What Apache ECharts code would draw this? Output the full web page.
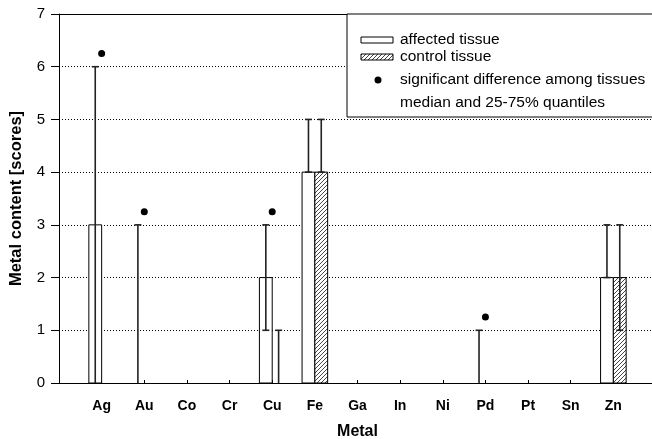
<!DOCTYPE html>
<html>
<head>
<meta charset="utf-8">
<script src="https://cdn.jsdelivr.net/npm/echarts/dist/echarts.min.js"></script>
<style>
  html, body { margin: 0; padding: 0; background: #fff; }
  #chart { width: 652px; height: 439px; }
</style>
</head>
<body>
<div id="chart"></div>
<script>
// metals on the x axis
const metals = ["Ag", "Au", "Co", "Cr", "Cu", "Fe", "Ga", "In", "Ni", "Pd", "Pt", "Sn", "Zn"];
// affected tissue: median, 25% and 75% quantiles
const affMedian = [3, 0, 0, 0, 2, 4, 0, 0, 0, 0, 0, 0, 2];
const affQ25 = [0, 0, 0, 0, 1, 4, 0, 0, 0, 0, 0, 0, 2];
const affQ75 = [6, 3, 0, 0, 3, 5, 0, 0, 0, 1, 0, 0, 3];
// control tissue
const ctlMedian = [0, 0, 0, 0, 0, 4, 0, 0, 0, 0, 0, 0, 2];
const ctlQ25 = [0, 0, 0, 0, 0, 4, 0, 0, 0, 0, 0, 0, 1];
const ctlQ75 = [0, 0, 0, 0, 1, 5, 0, 0, 0, 0, 0, 0, 3];
// significant difference markers (height of the dot)
const sigDots = [6.25, 3.25, null, null, 3.25, null, null, null, null, 1.25, null, null, null];
const yTicks = [0, 1, 2, 3, 4, 5, 6, 7];

const FONT = '"Liberation Sans", Arial, sans-serif';

// hatch pattern for control tissue
const hc = document.createElement("canvas");
hc.width = 4;
hc.height = 4;
const g = hc.getContext("2d");
g.fillStyle = "#fff";
g.fillRect(0, 0, 4, 4);
g.strokeStyle = "#444";
g.lineWidth = 1;
g.beginPath();
g.moveTo(0, 4); g.lineTo(4, 0);
g.moveTo(-1, 1); g.lineTo(1, -1);
g.moveTo(3, 5); g.lineTo(5, 3);
g.stroke();
const hatch = { image: hc, repeat: "repeat" };

const BW = 0.3; // bar width in x units

function boxItem(params, api) {
  const x = api.value(0), med = api.value(1), lo = api.value(2), hi = api.value(3), side = api.value(4);
  const x0 = side < 0 ? x - BW : x;
  const children = [];
  if (med > 0) {
    const p0 = api.coord([x0, med]);
    const p1 = api.coord([x0 + BW, 0]);
    children.push({
      type: "rect",
      shape: { x: p0[0], y: p0[1], width: p1[0] - p0[0], height: p1[1] - p0[1] },
      style: { fill: side < 0 ? "#fff" : hatch, stroke: "#000", lineWidth: 1 }
    });
  }
  if (hi > lo) {
    const xc = x0 + BW / 2;
    const a = api.coord([xc, hi]);
    const b = api.coord([xc, lo]);
    const cap = 3.5;
    const st = { stroke: "#222", lineWidth: 1.6 };
    children.push({ type: "line", shape: { x1: a[0], y1: a[1], x2: b[0], y2: b[1] }, style: st });
    children.push({ type: "line", shape: { x1: a[0] - cap, y1: a[1], x2: a[0] + cap, y2: a[1] }, style: st });
    if (lo > 0) {
      children.push({ type: "line", shape: { x1: b[0] - cap, y1: b[1], x2: b[0] + cap, y2: b[1] }, style: st });
    }
  }
  return { type: "group", children: children };
}

const affData = metals.map((m, i) => [i + 1, affMedian[i], affQ25[i], affQ75[i], -1]);
const ctlData = metals.map((m, i) => [i + 1, ctlMedian[i], ctlQ25[i], ctlQ75[i], 1]);
const dotData = [];
sigDots.forEach((v, i) => { if (v != null) dotData.push([i + 1, v]); });

const chart = echarts.init(document.getElementById("chart"));
chart.setOption({
  animation: false,
  grid: { left: 59, right: -4, top: 14, bottom: 56, outerBoundsMode: "none", containLabel: false },
  xAxis: [
    {
      type: "value",
      min: 0, max: metals.length + 1, interval: 1,
      name: "Metal",
      nameLocation: "middle",
      nameGap: 41,
      nameTextStyle: { fontFamily: FONT, fontSize: 16, fontWeight: "bold", color: "#000" },
      axisLine: { lineStyle: { color: "#000", width: 1 } },
      axisTick: { inside: true, length: 3, lineStyle: { color: "#000" } },
      axisLabel: {
        margin: 16,
        fontFamily: FONT, fontSize: 14, fontWeight: "bold", color: "#000",
        formatter: (v) => metals[v - 1] || ""
      },
      splitLine: { show: false }
    },
    {
      // top frame line only
      type: "value", position: "top",
      min: 0, max: metals.length + 1,
      axisLine: { show: true, lineStyle: { color: "#000", width: 1 } },
      axisTick: { show: false },
      axisLabel: { show: false },
      splitLine: { show: false }
    }
  ],
  yAxis: {
    type: "value",
    min: 0, max: 7, interval: 1,
    name: "Metal content [scores]",
    nameLocation: "middle",
    nameGap: 34,
    nameTextStyle: { fontFamily: FONT, fontSize: 16.5, fontWeight: "bold", color: "#000" },
    axisLine: { show: true, lineStyle: { color: "#000", width: 1 } },
    axisTick: { show: true, length: 8, lineStyle: { color: "#000" } },
    axisLabel: {
      margin: 14,
      fontFamily: FONT, fontSize: 15, color: "#000",
      formatter: (v) => (yTicks.indexOf(v) >= 0 ? String(v) : "")
    },
    splitLine: { show: true, lineStyle: { color: "#000", type: [1, 2], width: 1 } }
  },
  series: [
    { type: "custom", name: "affected tissue", renderItem: boxItem, data: affData, z: 3 },
    { type: "custom", name: "control tissue", renderItem: boxItem, data: ctlData, z: 3 },
    {
      type: "scatter", name: "significant difference", data: dotData,
      symbol: "circle", symbolSize: 7, itemStyle: { color: "#000", opacity: 1 }, z: 4
    }
  ],
  graphic: [
    {
      type: "rect", z: 100,
      shape: { x: 347, y: 14, width: 320, height: 103 },
      style: { fill: "#fff", stroke: "#000", lineWidth: 1 }
    },
    {
      type: "rect", z: 101,
      shape: { x: 361, y: 37, width: 32, height: 6 },
      style: { fill: "#fff", stroke: "#000", lineWidth: 1 }
    },
    {
      type: "rect", z: 101,
      shape: { x: 361, y: 54, width: 32, height: 6 },
      style: { fill: hatch, stroke: "#000", lineWidth: 1 }
    },
    {
      type: "circle", z: 101,
      shape: { cx: 378, cy: 80, r: 3.5 },
      style: { fill: "#000" }
    },
    {
      type: "text", z: 101, x: 400, y: 40,
      style: { text: "affected tissue", font: "15.5px " + FONT, fill: "#000", verticalAlign: "middle" }
    },
    {
      type: "text", z: 101, x: 400, y: 57,
      style: { text: "control tissue", font: "15.5px " + FONT, fill: "#000", verticalAlign: "middle" }
    },
    {
      type: "text", z: 101, x: 400, y: 80,
      style: { text: "significant difference among tissues", font: "15.5px " + FONT, fill: "#000", verticalAlign: "middle" }
    },
    {
      type: "text", z: 101, x: 400, y: 103,
      style: { text: "median and 25-75% quantiles", font: "15.5px " + FONT, fill: "#000", verticalAlign: "middle" }
    }
  ]
});
</script>
</body>
</html>
